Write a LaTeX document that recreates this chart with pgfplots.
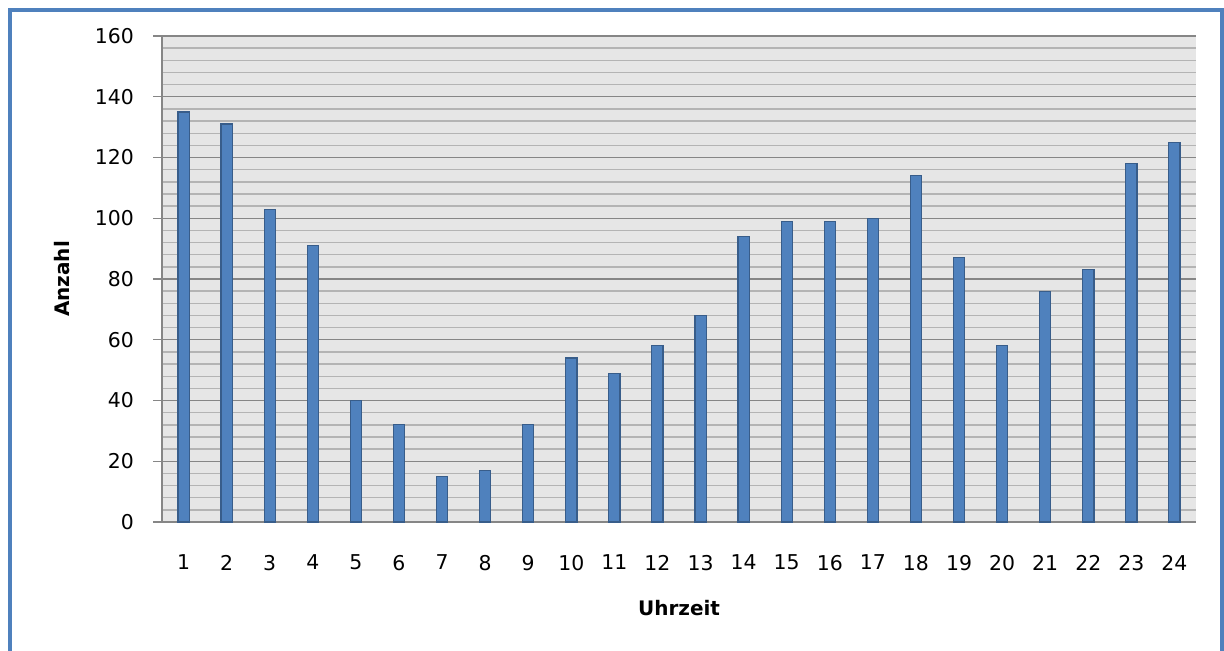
\documentclass[border=0pt]{standalone}
\usepackage{pgfplots}
\pgfplotsset{compat=1.18}
\usepackage{fontspec}
\setmainfont{DejaVu Sans}
\definecolor{barblue}{HTML}{4F81BD}
\definecolor{baredge}{HTML}{385D8A}
\definecolor{plotbg}{HTML}{E6E6E6}
\definecolor{majorgrid}{HTML}{868686}
\definecolor{minorgrid}{HTML}{B4B4B4}
\begin{document}
\begin{tikzpicture}
\useasboundingbox (0pt,0pt) rectangle (612pt,325pt);
% outer chart frame
\draw[barblue, line width=2pt] (5pt,-20pt) rectangle (611pt,320pt);
\begin{axis}[
  at={(81pt,64pt)}, anchor=south west,
  scale only axis,
  width=517pt, height=243pt,
  xmin=0.5, xmax=24.5,
  ymin=0, ymax=160,
  ytick={0,20,...,160},
  minor y tick num=4,
  xtick={1,...,24},
  axis background/.style={fill=plotbg},
  axis x line=bottom,
  axis y line=left,
  axis line style={majorgrid, line width=0.8pt, -},
  ymajorgrids, yminorgrids,
  major grid style={majorgrid, line width=0.7pt},
  minor grid style={minorgrid, line width=0.7pt},
  tick align=outside,
  major tick length=4.5pt,
  minor tick length=0pt,
  tick style={majorgrid, line width=0.7pt},
  x tick style={draw=none},
  ticklabel style={font=\fontsize{10.2}{12}\selectfont},
  xticklabel style={yshift=-8.5pt},
  yticklabel style={xshift=-6pt},
  xlabel={\textbf{Uhrzeit}},
  ylabel={\textbf{Anzahl}},
  label style={font=\fontsize{10}{12}\selectfont},
  xlabel style={at={(axis description cs:0.5,0)}, anchor=center, yshift=-43pt},
  ylabel style={at={(axis description cs:0,0.5)}, anchor=center, yshift=50pt},
  /pgf/number format/assume math mode=true,
  clip=false,
]
\addplot[ybar, bar width=5.6pt, fill=barblue, draw=baredge, line width=0.6pt]
  coordinates {
  (1,135) (2,131) (3,103) (4,91) (5,40) (6,32) (7,15) (8,17)
  (9,32) (10,54) (11,49) (12,58) (13,68) (14,94) (15,99) (16,99)
  (17,100) (18,114) (19,87) (20,58) (21,76) (22,83) (23,118) (24,125)
  };
\end{axis}
\end{tikzpicture}
\end{document}
